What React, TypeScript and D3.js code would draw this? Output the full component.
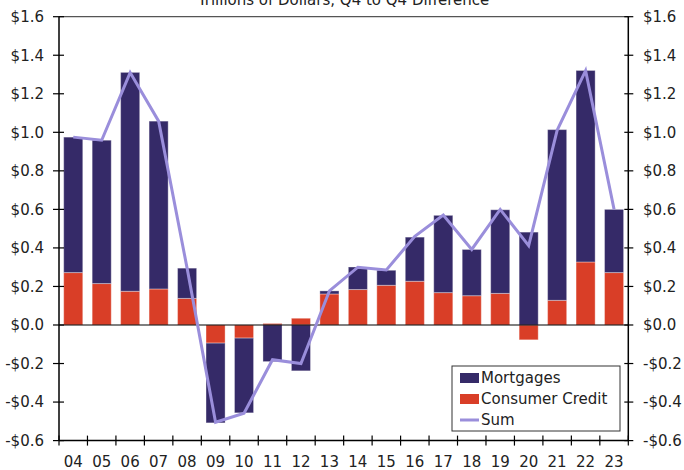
import React from "react";
import * as d3 from "d3";

const years = ["04","05","06","07","08","09","10","11","12","13","14","15","16","17","18","19","20","21","22","23"];
const mortgages = [0.703,0.744,1.136,0.871,0.157,-0.414,-0.388,-0.19,-0.238,0.016,0.117,0.078,0.229,0.401,0.240,0.434,0.482,0.886,0.994,0.328];
const consumerCredit = [0.272,0.215,0.175,0.187,0.138,-0.094,-0.068,0.008,0.035,0.161,0.184,0.206,0.227,0.168,0.152,0.164,-0.077,0.128,0.327,0.272];
const sumValues = [0.975,0.959,1.31,1.058,0.295,-0.505,-0.458,-0.18,-0.20,0.177,0.30,0.286,0.46,0.57,0.392,0.60,0.412,1.01,1.32,0.60];
const yTicks = [-0.6,-0.4,-0.2,0,0.2,0.4,0.6,0.8,1.0,1.2,1.4,1.6];
const title = "Trillions of Dollars, Q4 to Q4 Difference";

const W = 684, H = 470;
const left = 59, right = 628.3, top = 16.7, bottom = 440.6;
const C_MORT = "#352a68";
const C_CONS = "#d93e27";
const C_SUM = "#9a8edb";
const FONT = "'DejaVu Sans', Verdana, sans-serif";

export default function App() {
  const x = d3.scaleBand<string>().domain(years).range([left, right]).paddingInner(0.33).paddingOuter(0.165);
  const xb = d3.scaleBand<string>().domain(years).range([left, right]);
  const y = d3.scaleLinear().domain([-0.6, 1.6]).range([bottom, top]);

  const rows = years.map((yr, i) => ({ yr, cons: consumerCredit[i], mort: mortgages[i] }));
  const stack = d3.stack<any>().keys(["cons", "mort"]).offset(d3.stackOffsetDiverging);
  const series = stack(rows);
  const colors: Record<string, string> = { cons: C_CONS, mort: C_MORT };

  const line = d3.line<number>()
    .x((_, i) => (xb(years[i]) as number) + xb.bandwidth() / 2)
    .y((d) => y(d));

  const fmt = (v: number) => (v < 0 ? "-$" : "$") + Math.abs(v).toFixed(1);

  const legendX = 452, legendY = 366;

  return (
    <svg width={W} height={H} style={{ position: "absolute", left: 0, top: 0 }} fontFamily={FONT}>
      <text x={343.5} y={4.5} textAnchor="middle" fontSize={15} fill="#222">{title}</text>

      {series.map((s) => (
        <g key={s.key}>
          {s.map((d, i) => (
            <rect
              key={i}
              x={x(years[i])}
              width={x.bandwidth()}
              y={y(Math.max(d[0], d[1]))}
              height={Math.abs(y(d[0]) - y(d[1]))}
              fill={colors[s.key]}
              stroke="rgba(255,255,255,0.35)"
              strokeWidth={1}
            />
          ))}
        </g>
      ))}

      {/* frame */}
      <line x1={left} x2={right} y1={top} y2={top} stroke="#555" strokeWidth={1.2} />
      <line x1={left} x2={left} y1={top} y2={bottom} stroke="#000" strokeWidth={1.5} />
      <line x1={right} x2={right} y1={top} y2={bottom} stroke="#000" strokeWidth={1.5} />
      <line x1={left} x2={right} y1={bottom} y2={bottom} stroke="#000" strokeWidth={1.5} />
      <line x1={left} x2={right} y1={y(0)} y2={y(0)} stroke="#000" strokeWidth={1.2} />

      {/* y ticks */}
      {yTicks.map((t) => (
        <g key={t}>
          <line x1={left - 6} x2={left + 5} y1={y(t)} y2={y(t)} stroke="#000" strokeWidth={1.2} />
          <line x1={right - 4} x2={right + 5} y1={y(t)} y2={y(t)} stroke="#000" strokeWidth={1.2} />
          <text x={44} y={y(t)} dy="0.36em" textAnchor="end" fontSize={15} fill="#222">{fmt(t)}</text>
          <text x={643} y={y(t)} dy="0.36em" textAnchor="start" fontSize={15} fill="#222">{fmt(t)}</text>
        </g>
      ))}

      {/* x ticks */}
      {years.map((yr, i) => (
        <g key={yr}>
          <line x1={xb(yr)} x2={xb(yr)} y1={bottom - 5} y2={bottom + 5} stroke="#000" strokeWidth={1.2} />
          {i === years.length - 1 && (
            <line x1={right} x2={right} y1={bottom - 5} y2={bottom + 5} stroke="#000" strokeWidth={1.2} />
          )}
          <text x={(xb(yr) as number) + xb.bandwidth() / 2} y={467} textAnchor="middle" fontSize={15} fill="#222">{yr}</text>
        </g>
      ))}

      <path d={line(sumValues) || ""} fill="none" stroke={C_SUM} strokeWidth={3} strokeLinejoin="miter" />

      {/* legend */}
      <rect x={legendX} y={legendY} width={168} height={65} fill="#fff" stroke="#333" strokeWidth={1} />
      <rect x={460} y={373} width={19} height={10} fill={C_MORT} />
      <text x={481} y={383} fontSize={15} fill="#222">Mortgages</text>
      <rect x={460} y={394} width={19} height={10} fill={C_CONS} />
      <text x={481} y={404} fontSize={15} fill="#222">Consumer Credit</text>
      <line x1={460} x2={479} y1={420} y2={420} stroke={C_SUM} strokeWidth={3} />
      <text x={481} y={425} fontSize={15} fill="#222">Sum</text>
    </svg>
  );
}
